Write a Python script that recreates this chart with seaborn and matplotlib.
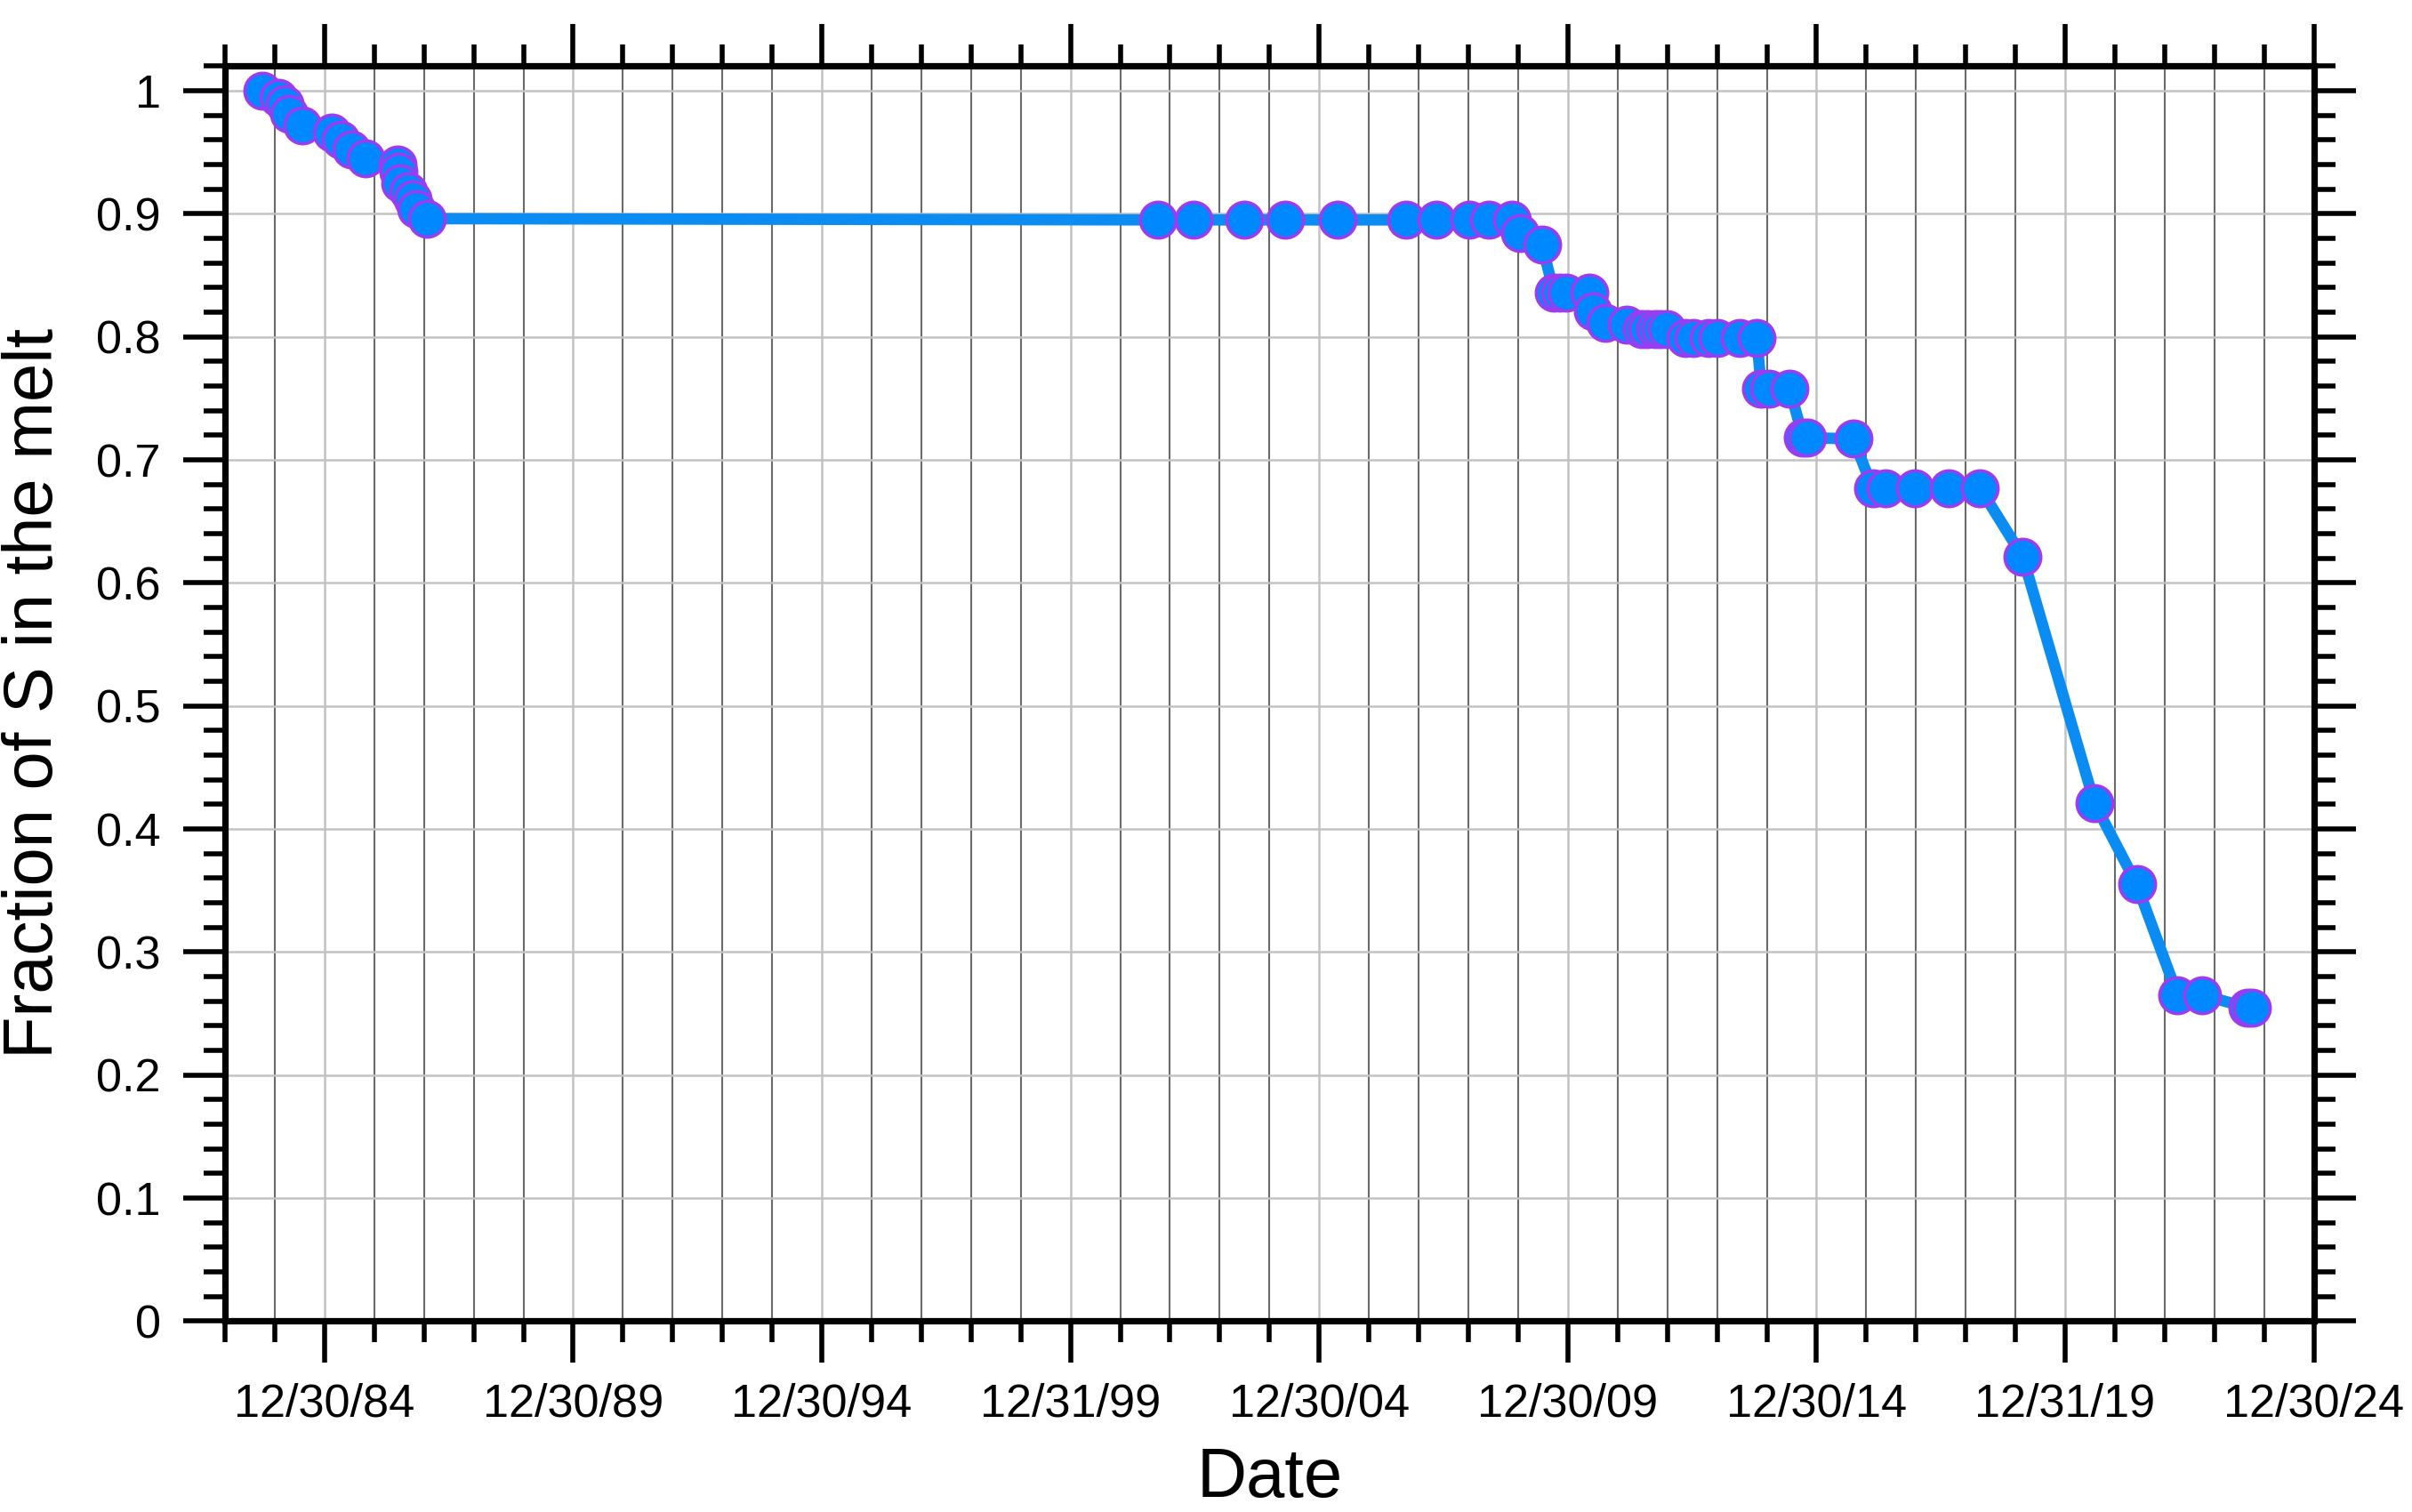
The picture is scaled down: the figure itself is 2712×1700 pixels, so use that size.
import matplotlib
matplotlib.use("Agg")
import matplotlib.pyplot as plt
from matplotlib.ticker import FixedLocator, FuncFormatter
import numpy as np
import pandas as pd
import seaborn as sns

# ---- data (decimal years, fraction of S in the melt) ----
years = [
    1983.75, 1984.07, 1984.19, 1984.28, 1984.55, 1985.15, 1985.33, 1985.53,
    1985.83, 1986.46, 1986.49, 1986.52, 1986.69, 1986.78, 1986.84, 1987.05,
    2001.75, 2002.48, 2003.50, 2004.32, 2005.37, 2006.74, 2007.35, 2008.02,
    2008.42, 2008.87, 2009.04, 2009.48,
    2009.72, 2009.84, 2009.96, 2010.44, 2010.50, 2010.76, 2011.18,
    2011.48, 2011.60, 2011.75, 2011.87, 2011.98,
    2012.37, 2012.52, 2012.82, 2013.00, 2013.46, 2013.80,
    2013.89, 2014.04, 2014.46,
    2014.73, 2014.82, 2015.74,
    2016.13, 2016.39, 2016.97, 2017.66, 2018.29,
    2019.15, 2020.59, 2021.44, 2022.26, 2022.76, 2023.66, 2023.75,
]
fraction = [
    1.000, 0.994, 0.989, 0.981, 0.972, 0.966, 0.960, 0.952,
    0.945, 0.940, 0.934, 0.925, 0.918, 0.912, 0.904, 0.896,
    0.895, 0.895, 0.895, 0.895, 0.895, 0.895, 0.895, 0.895,
    0.895, 0.895, 0.884, 0.875,
    0.836, 0.836, 0.836, 0.836, 0.821, 0.811, 0.810,
    0.806, 0.806, 0.806, 0.806, 0.806,
    0.799, 0.799, 0.799, 0.799, 0.799, 0.799,
    0.758, 0.758, 0.758,
    0.718, 0.718, 0.717,
    0.677, 0.677, 0.677, 0.677, 0.677,
    0.621, 0.421, 0.355, 0.265, 0.265, 0.255, 0.255,
]
x_tick_labels = ["12/30/84", "12/30/89", "12/30/94", "12/31/99", "12/30/04",
                 "12/30/09", "12/30/14", "12/31/19", "12/30/24"]
x_label = "Date"
y_label = "Fraction of S in the melt"

df = pd.DataFrame({"year": years, "fraction": fraction})

sns.set_theme(style="white")
plt.rcParams['font.family'] = ['Liberation Sans', 'DejaVu Sans']

fig = plt.figure(figsize=(13.56, 8.5), dpi=200)
ax = fig.add_axes([0.0933, 0.1262, 0.866, 0.8301])

sns.lineplot(data=df, x="year", y="fraction", ax=ax, sort=False, estimator=None,
             color="#0a8cf2", linewidth=4.6, marker="o", markersize=14.5,
             markerfacecolor="#0088ff", markeredgecolor="#9b3cf0",
             markeredgewidth=1.3, zorder=3)

# axes limits & ticks
ax.set_xlim(1983.0, 2025.0)
ax.set_ylim(0, 1.02)
major_x = list(np.arange(1985, 2026, 5))
ax.xaxis.set_major_locator(FixedLocator(major_x))
ax.set_xticklabels(x_tick_labels)
ax.xaxis.set_minor_locator(FixedLocator(list(np.arange(1983, 2026, 1))))
ax.yaxis.set_major_locator(FixedLocator(list(np.round(np.arange(0, 1.01, 0.1), 2))))
ax.yaxis.set_minor_locator(FixedLocator(list(np.round(np.arange(0, 1.021, 0.02), 2))))
ax.yaxis.set_major_formatter(FuncFormatter(lambda v, p: f"{v:g}"))

ax.tick_params(which="major", direction="out", length=17, width=2.0,
               top=True, right=True, bottom=True, left=True,
               labeltop=False, labelright=False, labelsize=18.8,
               color="black", labelcolor="black")
ax.tick_params(axis="y", which="major", pad=9)
ax.tick_params(axis="x", which="major", pad=8)
ax.tick_params(which="minor", direction="out", length=8.5, width=2.0,
               top=True, right=True, bottom=True, left=True, color="black")

# grid
ax.set_axisbelow(True)
ax.grid(which="major", axis="both", color="#c2c2c2", linewidth=0.9)
ax.grid(which="minor", axis="x", color="#6a6a6a", linewidth=0.75)

for s in ax.spines.values():
    s.set_visible(True)
    s.set_color("black")
    s.set_linewidth(2.6)

ax.set_xlabel(x_label, fontsize=28, color="black", labelpad=8)
ax.set_ylabel(y_label, fontsize=28, color="black", labelpad=12)

fig.savefig("out.png", dpi=200)
